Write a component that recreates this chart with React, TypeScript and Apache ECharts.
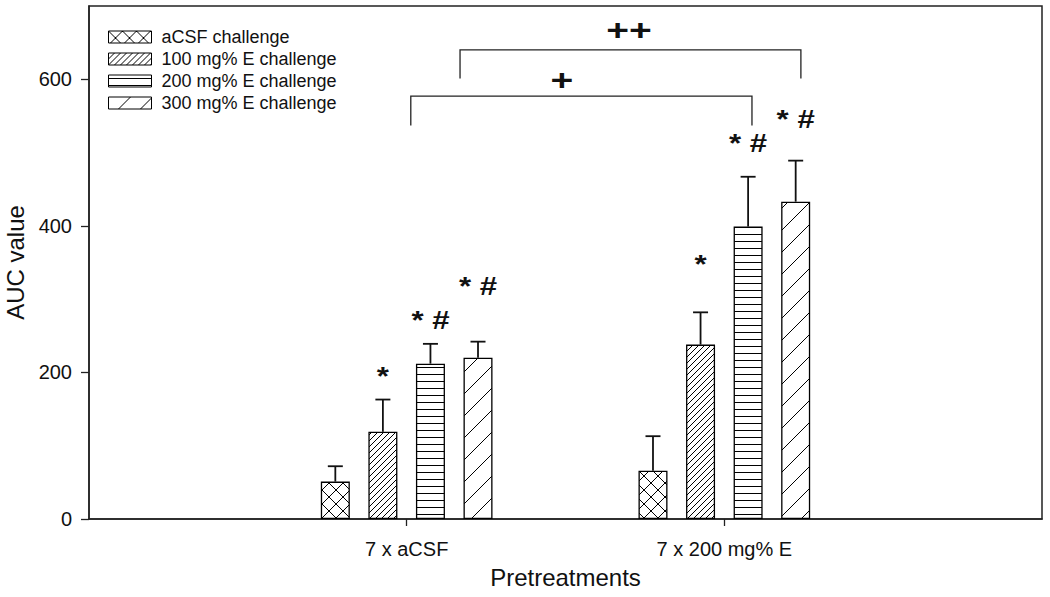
import React, { useEffect, useRef } from "react";
import * as echarts from "echarts";

// ---------- data ----------
const categories = ["", "7 x aCSF", "7 x 200 mg% E", ""];
const seriesNames = [
  "aCSF challenge",
  "100 mg% E challenge",
  "200 mg% E challenge",
  "300 mg% E challenge",
];
// values per pretreatment group: [7 x aCSF, 7 x 200 mg% E]
const aCSFValues = [51, 66];
const e100Values = [119, 238];
const e200Values = [212, 399];
const e300Values = [220, 433];
// SEM (upper error)
const aCSFErr = [21, 47];
const e100Err = [44, 44];
const e200Err = [27, 68];
const e300Err = [22, 56];
// significance marks above bars and their heights (AUC units)
const aCSFSig = ["", ""];
const e100Sig = ["*", "*"];
const e200Sig = ["* #", "* #"];
const e300Sig = ["* #", "* #"];
const aCSFSigY = [0, 0];
const e100SigY = [195, 348];
const e200SigY = [271, 513];
const e300SigY = [318, 546];
// comparison brackets (x in category units, y in AUC units)
const bracketLabels = ["+", "++"];
const bracketStart = [1.013, 1.168];
const bracketEnd = [2.087, 2.241];
const bracketTop = [577, 640];
const bracketFoot = [537, 601];
const bracketLabelX = [1.489, 1.7];
const bracketLabelY = [600, 668];
// axis
const yTicks = [0, 200, 400, 600];
const yMax = 700;

const FONT = "'Liberation Sans', Arial, Helvetica, sans-serif";
const INK = "#111";
const BAR_W = 29;
const BAR_GAP = 0.64;
const STEP = BAR_W * (1 + BAR_GAP);

function makePattern(size: number, draw: (ctx: CanvasRenderingContext2D, s: number) => void) {
  const c = document.createElement("canvas");
  c.width = size;
  c.height = size;
  const ctx = c.getContext("2d")!;
  ctx.fillStyle = "#fff";
  ctx.fillRect(0, 0, size, size);
  ctx.strokeStyle = "#000";
  ctx.fillStyle = "#000";
  ctx.lineWidth = 1;
  draw(ctx, size);
  return { image: c, repeat: "repeat", imageWidth: size, imageHeight: size } as any;
}
function fwd(ctx: CanvasRenderingContext2D, s: number) {
  ctx.beginPath();
  for (let k = -1; k <= 1; k++) {
    ctx.moveTo(k * s - 1, s + 1);
    ctx.lineTo(k * s + s + 1, -1);
  }
  ctx.stroke();
}
function back(ctx: CanvasRenderingContext2D, s: number) {
  ctx.beginPath();
  for (let k = -1; k <= 1; k++) {
    ctx.moveTo(k * s - 1, -1);
    ctx.lineTo(k * s + s + 1, s + 1);
  }
  ctx.stroke();
}

export default function App() {
  const ref = useRef<HTMLDivElement>(null);
  useEffect(() => {
    document.body.style.margin = "0";
    const chart = echarts.init(ref.current!, null, { renderer: "svg" });

    const patterns = [
      makePattern(14, (c, s) => { fwd(c, s); back(c, s); }),
      makePattern(6, fwd),
      makePattern(7, (c, s) => c.fillRect(0, 3, s, 1)),
      makePattern(22, fwd),
    ];
    const values = [aCSFValues, e100Values, e200Values, e300Values];
    const errs = [aCSFErr, e100Err, e200Err, e300Err];
    const sigs = [aCSFSig, e100Sig, e200Sig, e300Sig];
    const sigYs = [aCSFSigY, e100SigY, e200SigY, e300SigY];

    const barSeries = seriesNames.map((name, i) => ({
      type: "bar",
      name,
      xAxisIndex: 0,
      barWidth: BAR_W,
      barGap: BAR_GAP * 100 + "%",
      data: ["-", values[i][0], values[i][1], "-"],
      itemStyle: { color: patterns[i], borderColor: "#000", borderWidth: 1.3 },
      emphasis: { disabled: true },
    }));

    const errSeries = seriesNames.map((name, i) => ({
      type: "custom",
      name: "err" + i,
      xAxisIndex: 0,
      silent: true,
      z: 3,
      data: values[i].map((v, g) => [g + 1, v, errs[i][g], g]),
      renderItem: (params: any, api: any) => {
        const x = api.value(0), v = api.value(1), e = api.value(2);
        const g = api.value(3);
        const off = (i - 1.5) * STEP;
        const p0 = api.coord([x, v]);
        const p1 = api.coord([x, v + e]);
        const cx = p0[0] + off;
        const children: any[] = [
          { type: "line", shape: { x1: cx, y1: p0[1], x2: cx, y2: p1[1] }, style: { stroke: INK, lineWidth: 1.8 } },
          { type: "line", shape: { x1: cx - 7.5, y1: p1[1], x2: cx + 7.5, y2: p1[1] }, style: { stroke: INK, lineWidth: 1.8 } },
        ];
        const txt = sigs[i][g];
        if (txt) {
          const ps = api.coord([x, sigYs[i][g]]);
          children.push({
            type: "text",
            x: cx,
            y: ps[1],
            scaleX: 1.2,
            style: {
              text: txt,
              fontSize: 26,
              fontWeight: "bold",
              fontFamily: FONT,
              fill: INK,
              align: "center",
              verticalAlign: "middle",
            },
          });
        }
        return { type: "group", children };
      },
    }));

    const bracketSeries = {
      type: "custom",
      name: "brackets",
      xAxisIndex: 1,
      silent: true,
      data: bracketLabels.map((_, k) => [bracketStart[k], bracketEnd[k], bracketTop[k], bracketFoot[k], bracketLabelX[k], bracketLabelY[k]]),
      renderItem: (params: any, api: any) => {
        const k = params.dataIndex;
        const a = api.coord([api.value(0), api.value(3)]);
        const b = api.coord([api.value(0), api.value(2)]);
        const c = api.coord([api.value(1), api.value(2)]);
        const d = api.coord([api.value(1), api.value(3)]);
        const l = api.coord([api.value(4), api.value(5)]);
        return {
          type: "group",
          children: [
            {
              type: "polyline",
              shape: { points: [a, b, c, d] },
              style: { stroke: "#222", lineWidth: 1.3, fill: "none" },
            },
            {
              type: "text",
              x: l[0],
              y: l[1],
              scaleX: 1.3,
              style: {
                text: bracketLabels[k],
                fontSize: 30,
                fontWeight: "bold",
                fontFamily: FONT,
                fill: INK,
                align: "center",
                verticalAlign: "middle",
              },
            },
          ],
        };
      },
    };

    chart.setOption({
      animation: false,
      backgroundColor: "#fff",
      textStyle: { fontFamily: FONT, color: INK },
      grid: {
        left: 89,
        right: 8,
        top: 6,
        bottom: 78,
        show: true,
        borderColor: "#222",
        borderWidth: 1.5,
        containLabel: false,
        outerBoundsMode: "none",
      },
      legend: {
        data: seriesNames,
        orient: "vertical",
        left: 108,
        top: 28,
        padding: 0,
        itemWidth: 43,
        itemHeight: 12,
        itemGap: 4,
        icon: "rect",
        selectedMode: false,
        itemStyle: { borderColor: "#000", borderWidth: 1 },
        textStyle: { fontSize: 18, fontFamily: FONT, color: INK, padding: [0, 0, 0, 5] },
      },
      xAxis: [
        {
          type: "category",
          data: categories,
          boundaryGap: false,
          name: "Pretreatments",
          nameLocation: "middle",
          nameGap: 46,
          nameTextStyle: { fontSize: 24, fontFamily: FONT, color: INK },
          axisLine: { lineStyle: { color: "#222", width: 1.5 } },
          axisTick: {
            show: true,
            length: 7,
            interval: (idx: number) => idx === 1 || idx === 2,
            lineStyle: { color: "#222", width: 1.3 },
          },
          axisLabel: { interval: 0, fontSize: 20, margin: 20, color: INK, fontFamily: FONT },
          splitLine: { show: false },
        },
        { type: "value", min: 0, max: 3, show: false },
      ],
      yAxis: {
        type: "value",
        min: 0,
        max: yMax,
        interval: 200,
        name: "AUC value",
        nameLocation: "middle",
        nameGap: 51,
        nameTextStyle: { fontSize: 24, fontFamily: FONT, color: INK },
        axisLine: { show: true, lineStyle: { color: "#222", width: 1.5 } },
        axisTick: { show: true, length: 8, customValues: yTicks, lineStyle: { color: "#222", width: 1.3 } },
        axisLabel: { fontSize: 20, margin: 17, color: INK, fontFamily: FONT, customValues: yTicks },
        splitLine: { show: false },
      },
      series: [...barSeries, ...errSeries, bracketSeries],
    });
    return () => chart.dispose();
  }, []);
  return <div ref={ref} style={{ width: 1050, height: 597 }} />;
}
